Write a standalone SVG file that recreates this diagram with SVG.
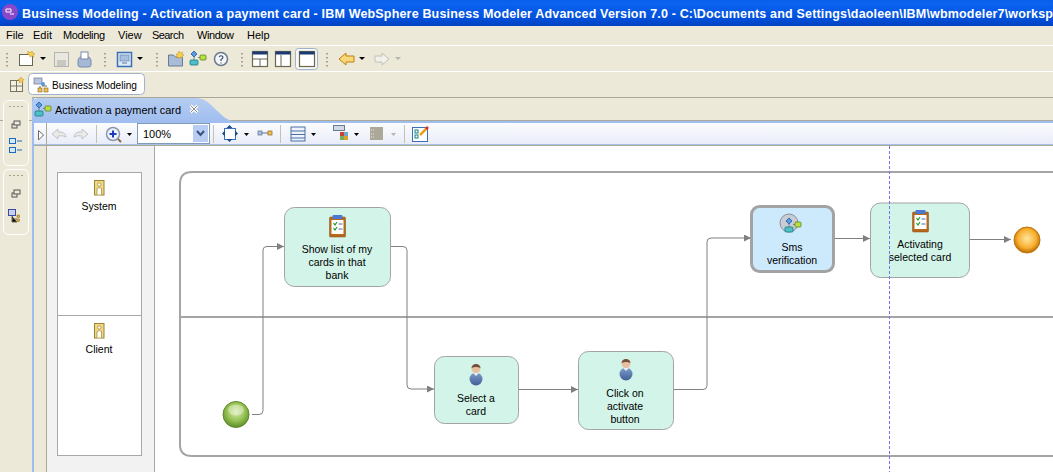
<svg xmlns="http://www.w3.org/2000/svg" xmlns:xlink="http://www.w3.org/1999/xlink" width="1053" height="472" viewBox="0 0 1053 472">
<style>
text{font-family:"Liberation Sans",Arial,sans-serif;font-size:11px;fill:#000}
.c{text-anchor:middle;font-size:10.500px}
.task{fill:#d3f4e9;stroke:#a3a3a3;stroke-width:1}
.conn{fill:none;stroke:#808080;stroke-width:1;marker-end:url(#arr)}
.sep{stroke:#c5c2b2;stroke-width:1}
.lane{fill:none;stroke:#a5a5a5;stroke-width:2}
.drop{fill:#000}
.dropg{fill:#b5b5b0}
.grip{stroke:#a5a295;stroke-width:2;stroke-dasharray:1.5 2.5;fill:none}
</style>
<defs>
<linearGradient id="title" x1="0" y1="0" x2="0" y2="1"><stop offset="0" stop-color="#0a5fe8"/><stop offset=".15" stop-color="#0a63f0"/><stop offset=".7" stop-color="#0350dc"/><stop offset="1" stop-color="#0342c0"/></linearGradient>
<linearGradient id="tab" x1="0" y1="0" x2="0" y2="1"><stop offset="0" stop-color="#b5cdf2"/><stop offset="1" stop-color="#9fbdef"/></linearGradient>
<linearGradient id="tb" x1="0" y1="0" x2="0" y2="1"><stop offset="0" stop-color="#fbfcfe"/><stop offset="1" stop-color="#e8ecf8"/></linearGradient>
<linearGradient id="body" x1="0" y1="0" x2="0" y2="1"><stop offset="0" stop-color="#7f9dc8"/><stop offset="1" stop-color="#41609a"/></linearGradient>
<radialGradient id="start" cx=".5" cy=".4" r=".6"><stop offset="0" stop-color="#d6ecaa"/><stop offset=".6" stop-color="#93c050"/><stop offset="1" stop-color="#5d8c2a"/></radialGradient>
<radialGradient id="end" cx=".5" cy=".45" r=".55"><stop offset="0" stop-color="#ffe6a0"/><stop offset=".65" stop-color="#f8b030"/><stop offset="1" stop-color="#b86a00"/></radialGradient>
<marker id="arr" markerWidth="8" markerHeight="8" refX="7" refY="3.500" orient="auto" markerUnits="userSpaceOnUse"><path d="M0 0L7 3.500L0 7z" fill="#808080"/></marker>
<g id="clip">
<rect x="0" y="2" width="16" height="20" rx="1" fill="#b8681c" stroke="#8a4a10" stroke-width=".5"/>
<rect x="2" y="5" width="12" height="14" fill="#fff"/>
<rect x="3" y="0" width="10" height="4" rx="1" fill="#4a78d0"/>
<path d="M4 8l1.500 2 2-3M4 13l1.500 2 2-3" fill="none" stroke="#1a9a2a" stroke-width="1.200"/>
<path d="M9 9h4M9 14h4" stroke="#4a6ab0" stroke-width="1"/>
</g>
<g id="person">
<ellipse cx="7" cy="15" rx="6.500" ry="6.500" fill="url(#body)"/>
<path d="M4 9l3 3 3-3z" fill="#e8eef8"/>
<circle cx="7" cy="4.500" r="4.500" fill="#e8c0a0"/>
<path d="M2.500 4a4.500 4 0 0 1 9 0q-4.500-2-9 0z" fill="#70503c"/>
</g>
<g id="role">
<rect x="0" y="0" width="9.500" height="14.500" fill="#f2d680" stroke="#9a8436"/>
<circle cx="4.750" cy="4" r="1.700" fill="#fff" stroke="#9a8436" stroke-width=".7"/>
<path d="M2.500 14V8q2.250-2 4.500 0v6" fill="#fff" stroke="#9a8436" stroke-width=".7"/>
</g>
<g id="proc">
<path d="M4 0l3 3-3 3-3-3z" fill="#5a9ae0" stroke="#1a5aa0" stroke-width=".8"/>
<rect x="0" y="9" width="8" height="5" rx="1" fill="#50c0c8" stroke="#187a80" stroke-width=".8"/>
<rect x="10" y="4" width="6" height="5" rx="1" fill="#b8e040" stroke="#608020" stroke-width=".8"/>
<path d="M4 6v3M8 6.500h2" stroke="#607080" stroke-width=".8"/>
</g>
<g id="layout">
<rect x="0.500" y="0.500" width="15" height="15" fill="#fff" stroke="#6b6650" stroke-width="1.200"/>
<rect x="0.500" y="0.500" width="15" height="3" fill="#1a3a70"/>
</g>
</defs>

<rect width="1053" height="472" fill="#ece9d8"/>

<g id="title-bar">
<rect width="1053" height="26" fill="url(#title)"/>
<circle cx="10" cy="12" r="8" fill="#8a48c8"/>
<path d="M6 9h5v3H6zM10 14h4" stroke="#fff" fill="none"/>
<text x="22" y="18" textLength="1031" lengthAdjust="spacing" style="font-size:12.500px;font-weight:bold;fill:#fff">Business Modeling - Activation a payment card - IBM WebSphere Business Modeler Advanced Version 7.0 - C:\Documents and Settings\daoleen\IBM\wbmodeler7\worksp</text>
</g>

<g id="menu-bar">
<text x="6" y="39">File</text>
<text x="33" y="39">Edit</text>
<text x="63" y="39" textLength="42">Modeling</text>
<text x="118" y="39">View</text>
<text x="152" y="39" textLength="32">Search</text>
<text x="197" y="39" textLength="37">Window</text>
<text x="247" y="39">Help</text>
<path d="M0 45.500H1053M0 71.500H1053" stroke="#fff"/>
<path d="M32 97.500H1053" stroke="#aca899"/>
<path d="M0 120.500H1053" stroke="#aca899"/>
</g>

<g id="main-toolbar">
<path class="grip" d="M7 53V67M105 53V67M157 53V67M242 53V67M327 53V67"/>
<rect x="19.500" y="54.500" width="13" height="11" fill="#fff" stroke="#6b6650"/><path d="M28 51l2 2 2-2 1 2 2 1-2 1 1 2-2-1-2 1-.5-2-2-1z" fill="#f8d050" stroke="#b89020" stroke-width=".5"/>
<path class="drop" d="M40 57h6l-3 3z"/>
<rect x="54.500" y="52.500" width="14" height="14" fill="#e8e8e0" stroke="#b5b5ad"/><rect x="57" y="60" width="9" height="6" fill="#c8c8c0"/>
<path d="M78 62q0-5 3-5h7q3 0 3 5v3q0 2-3 2h-7q-3 0-3-2z" fill="#a5b8d8" stroke="#7a8aa8"/><rect x="81" y="52" width="7" height="7" fill="#fff" stroke="#7a8aa8"/>
<rect x="117.500" y="52.500" width="14" height="14" fill="#dfe8f5" stroke="#3a70b8" stroke-width="1.500"/><rect x="120" y="55" width="9" height="6" fill="#a8c0e0" stroke="#587aa8" stroke-width=".6"/><path d="M122 63h5" stroke="#587aa8"/>
<path class="drop" d="M137 57h6l-3 3z"/>
<path d="M168.500 55h5l2 2h7v9h-14z" fill="#a8bcd8" stroke="#6a7a90"/><path d="M179 51l1.500 2 2-1-.5 2 2 1-2 1 .5 2-2-1-1.500 2-1-2-2 0 1-2-1-1 2 0z" fill="#f8d050" stroke="#b89020" stroke-width=".5"/>
<use xlink:href="#proc" href="#proc" x="190" y="51"/>
<circle cx="221" cy="59" r="6.500" fill="#f4f6fa" stroke="#6a7a90" stroke-width="1.500"/><path d="M219 57q2-2.500 4 0 0 1.500-2 2.500v1.500M221 62.500v1" fill="none" stroke="#38506a" stroke-width="1.200"/>
<use xlink:href="#layout" href="#layout" x="252" y="51"/><path d="M252 59H268M260 59V67" stroke="#6b6650"/>
<use xlink:href="#layout" href="#layout" x="275" y="51"/><path d="M281 55V67" stroke="#6b6650"/>
<rect x="295.500" y="48.500" width="22" height="21" rx="3" fill="#f8f8f4" stroke="#9fb4cc"/>
<use xlink:href="#layout" href="#layout" x="299" y="51"/>
<path d="M339 59l7-6v3h8v6h-8v3z" fill="#f8d878" stroke="#c08010"/>
<path class="drop" d="M359 57h6l-3 3z"/>
<path d="M389 59l-7-6v3h-7v6h7v3z" fill="#f2f2ec" stroke="#c0c0b8"/>
<path class="dropg" d="M395 57h6l-3 3z"/>
</g>

<g id="perspective-bar">
<rect x="10.500" y="80.500" width="12" height="11" fill="#f4f0e0" stroke="#7a7260"/><path d="M10.500 86h12M16.500 80.500v11" stroke="#7a7260"/><path d="M21 77l1 2 2 .5-1.500 1.500.5 2-2-1-2 1 .5-2-1.500-1.500 2-.5z" fill="#f8d050" stroke="#b89020" stroke-width=".5"/>
<rect x="28.500" y="73.500" width="116" height="21" rx="4" fill="#fff" stroke="#9fb4cc"/>
<rect x="34" y="78" width="8" height="6" fill="#b8c4e0" stroke="#6a7a90" stroke-width=".7"/><circle cx="43" cy="84" r="2" fill="#5a9ae0"/><path d="M40 86v3M42 86h5" stroke="#6a6a50"/><rect x="38" y="88" width="4" height="4" fill="#f0c050" stroke="#806020" stroke-width=".6"/><rect x="44" y="88" width="4" height="4" fill="#f0c050" stroke="#806020" stroke-width=".6"/>
<text x="52" y="89" textLength="85" lengthAdjust="spacingAndGlyphs">Business Modeling</text>
</g>

<g id="side-panel">
<rect x="3.500" y="100.500" width="25" height="65" rx="5" fill="#ece9d8" stroke="#fff"/>
<rect x="3.500" y="169.500" width="25" height="65" rx="5" fill="#ece9d8" stroke="#fff"/>
<path d="M9 106.500h14M9 175.500h14" stroke="#a5a295" stroke-dasharray="2 2"/>
<rect x="12" y="124" width="5" height="4" fill="none" stroke="#555"/><rect x="14" y="121" width="6" height="4" fill="#ece9d8" stroke="#555"/>
<rect x="12" y="193" width="5" height="4" fill="none" stroke="#555"/><rect x="14" y="190" width="6" height="4" fill="#ece9d8" stroke="#555"/>
<rect x="9.500" y="138.500" width="6" height="5" fill="#d8e8f8" stroke="#1a6ac0"/><rect x="9.500" y="147.500" width="6" height="5" fill="#d8e8f8" stroke="#1a6ac0"/><path d="M17 141h5M17 150h5" stroke="#1a6ac0"/>
<rect x="8.500" y="209.500" width="7" height="6" fill="#c8d0f0" stroke="#3a4aa0"/><path d="M12 216v6h5M12 219h5" stroke="#6a6a50"/><rect x="17" y="215" width="2.500" height="2.500" fill="#e0b030" stroke="#806020" stroke-width=".5"/><rect x="17" y="219" width="2.500" height="2.500" fill="#e0b030" stroke="#806020" stroke-width=".5"/>
<rect x="32" y="98" width="2" height="374" fill="#9fbdef"/>
</g>

<g id="editor-tab">
<path d="M32 123V105q0-7 7-7H196q8 0 14 6t14 13q2 2 8 4H1053v2H32z" fill="url(#tab)"/>
<use xlink:href="#proc" href="#proc" x="35" y="102"/>
<text x="55" y="114" textLength="126" lengthAdjust="spacingAndGlyphs">Activation a payment card</text>
<path d="M190.500 105.500l7 7M197.500 105.500l-7 7" stroke="#fff" stroke-width="3"/>
<path d="M190.500 105.500l7 7M197.500 105.500l-7 7" stroke="#8a8a80" stroke-width="1"/>
</g>

<g id="editor-toolbar">
<rect x="34" y="123" width="1019" height="22" fill="url(#tb)"/>
<path d="M34 144.500H1053" stroke="#a9c0e8"/><path d="M34 145.500H1053" stroke="#aca899"/>
<path d="M46.500 123V146" stroke="#c5c8d0"/>
<path d="M38.500 130.500l5 4.500-5 5z" fill="#fff" stroke="#6a6a60"/>
<path d="M52 134l6-5v3q7-1 8 5-3-2-8-1v3z" fill="#eaeaea" stroke="#c5c5c5"/>
<path d="M88 134l-6-5v3q-7-1-8 5 3-2 8-1v3z" fill="#eaeaea" stroke="#c5c5c5"/>
<path class="sep" d="M96.500 125V143M213.500 125V143M280.500 125V143M404.500 125V143"/>
<circle cx="113" cy="134" r="6.500" fill="#eef2fa" stroke="#8a98b0" stroke-width="1.500"/><path d="M109.500 134h7M113 130.500v7" stroke="#1a3ac0" stroke-width="2"/><path d="M118 139l3 3" stroke="#8a6a40" stroke-width="2"/>
<path class="drop" d="M127 133h5l-2.500 3z"/>
<rect x="137.500" y="123.500" width="72" height="20" fill="#fff" stroke="#7f9db9"/>
<rect x="193" y="125" width="15" height="17" fill="#b9cdf2"/><path d="M197 131l3.500 4 3.500-4" fill="none" stroke="#3a5080" stroke-width="2"/>
<text x="143" y="138">100%</text>
<rect x="224.500" y="128.500" width="11" height="11" fill="#fff" stroke="#3a70b8"/><path d="M229.500 125l3 3h-6zM229.500 142l3-3h-6zM222 133.500l3-3v6zM238 133.500l-3-3v6z" fill="#1a4a90"/>
<path class="drop" d="M244 133h5l-2.500 3z"/>
<rect x="258" y="131" width="4" height="4" fill="#a8c0e0" stroke="#5a7090" stroke-width=".7"/><rect x="268" y="131" width="4" height="4" fill="#f0c050" stroke="#906820" stroke-width=".7"/><path d="M262 133h6" stroke="#5a7090"/>
<rect x="291" y="127" width="14" height="14" fill="#eef2fa" stroke="#4a70a8"/><path d="M291 131h14M291 134.500h14M291 138h14" stroke="#4a70a8"/>
<path class="drop" d="M311 133h5l-2.500 3z"/>
<rect x="333.500" y="125.500" width="11" height="5" fill="#d0d8e8" stroke="#6a7a90"/><rect x="340" y="132" width="4" height="4" fill="#d04030"/><rect x="344" y="132" width="4" height="4" fill="#70a8d0"/><rect x="340" y="136" width="4" height="4" fill="#70b060"/><rect x="344" y="136" width="4" height="4" fill="#e0a030"/>
<path class="drop" d="M354 133h5l-2.500 3z"/>
<rect x="370" y="127" width="13" height="13" fill="#aca899"/><path d="M371 130h4M371 134h4M371 137h4" stroke="#ece9d8" stroke-dasharray="1 1"/>
<path class="dropg" d="M391 133h5l-2.500 3z"/>
<rect x="412.500" y="127.500" width="15" height="14" fill="#fff" stroke="#3a70b8"/><rect x="415" y="130" width="3" height="3" fill="none" stroke="#108080"/><rect x="415" y="135" width="3" height="3" fill="none" stroke="#108080"/><path d="M420 135l7-7" stroke="#e8a020" stroke-width="2.500"/><path d="M426 129l2-2" stroke="#d03030" stroke-width="2.500"/>
</g>

<g id="palette">
<rect x="47" y="146" width="107" height="326" fill="#f2f2f2"/>
<path d="M46.500 123V472" stroke="#aca899"/>
<rect x="154" y="146" width="899" height="326" fill="#fff"/>
<path d="M154.500 146V472" stroke="#a8a8a8"/>
</g>

<g id="lane-labels">
<rect x="57.500" y="172.500" width="84" height="283" fill="#fff" stroke="#a8a8a8"/>
<path d="M58 315.500H141" stroke="#a8a8a8"/>
</g>
<g id="lane-system"><use xlink:href="#role" href="#role" x="94.500" y="180.500"/><text class="c" x="99" y="210">System</text></g>
<g id="lane-client"><use xlink:href="#role" href="#role" x="94.500" y="323.500"/><text class="c" x="99" y="353">Client</text></g>

<g id="pool">
<path class="lane" d="M1054 172H192q-12 0-12 12V445q0 11 12 11H1054"/>
<path class="lane" d="M181 317H1054"/>
</g>

<g id="connectors">
<path class="conn" d="M252 414.500H259q4 0 4-4V250q0-3.500 4-3.500H284"/>
<path class="conn" d="M391 246.500H403q4 0 4 4V385q0 4 4 4H434"/>
<path class="conn" d="M519 389.500H578"/>
<path class="conn" d="M674 389.500H703q4 0 4-4V242q0-4 4-4H751"/>
<path class="conn" d="M835 238.500H870"/>
<path class="conn" d="M970 239.500H1011"/>
</g>

<g id="start-event"><circle cx="236" cy="414.500" r="13" fill="url(#start)" stroke="#5d8c2a"/><ellipse cx="236" cy="410" rx="8" ry="5.500" fill="#fff" fill-opacity=".35"/></g>

<g id="task-show-list">
<rect class="task" x="284.500" y="207.500" width="106" height="79" rx="10"/>
<use xlink:href="#clip" href="#clip" x="329.500" y="215"/>
<text class="c" x="337" y="253">Show list of my</text><text class="c" x="337" y="266">cards in that</text><text class="c" x="337" y="279">bank</text>
</g>
<g id="task-select-card">
<rect class="task" x="434.500" y="356.500" width="84" height="67" rx="10"/>
<use xlink:href="#person" href="#person" x="469" y="364"/>
<text class="c" x="476" y="402">Select a</text><text class="c" x="476" y="415">card</text>
</g>
<g id="task-click-activate">
<rect class="task" x="578.500" y="351.500" width="95" height="78" rx="10"/>
<use xlink:href="#person" href="#person" x="619" y="359"/>
<text class="c" x="625" y="397">Click on</text><text class="c" x="625" y="410">activate</text><text class="c" x="625" y="423">button</text>
</g>
<g id="task-sms">
<rect x="751.500" y="206.500" width="82" height="65" rx="8" fill="#cde9fc" stroke="#a3a3a3" stroke-width="3"/>
<circle cx="789" cy="223" r="9" fill="#c8ccd4" stroke="#8a8e98"/>
<use xlink:href="#proc" href="#proc" x="785" y="218"/>
<text class="c" x="792" y="251">Sms</text><text class="c" x="792" y="264">verification</text>
</g>
<g id="task-activating">
<rect class="task" x="870.500" y="203" width="99" height="74.500" rx="10"/>
<use xlink:href="#clip" href="#clip" x="912.500" y="210"/>
<text class="c" x="920" y="248">Activating</text><text class="c" x="920" y="261">selected card</text>
</g>
<g id="end-event"><circle cx="1027" cy="240" r="13" fill="url(#end)" stroke="#c07810"/></g>
<path id="page-break" d="M889.500 146V472" stroke="#7b6fe8" stroke-dasharray="3 2" fill="none"/>
</svg>
